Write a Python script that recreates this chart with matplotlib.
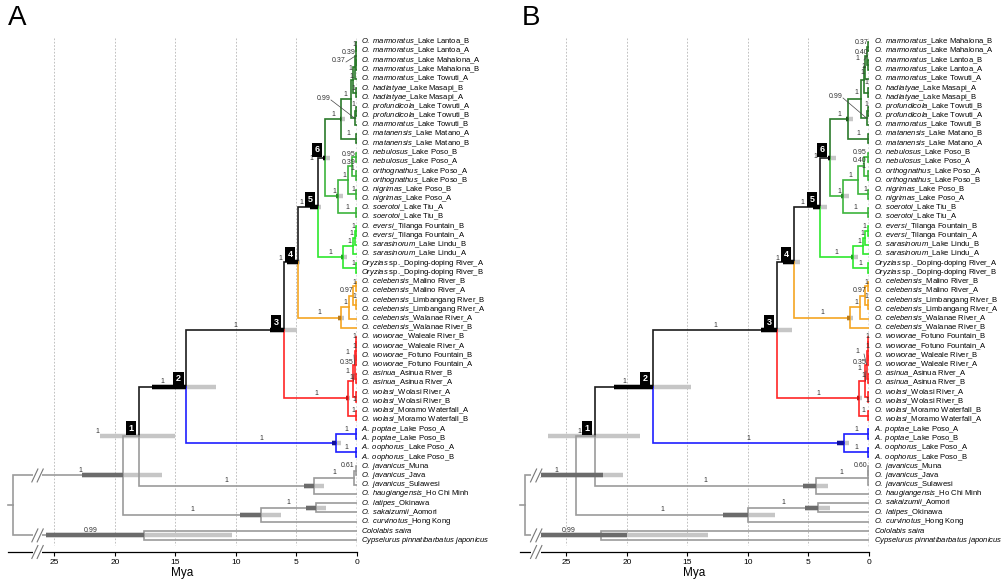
import matplotlib
matplotlib.use('Agg')
import matplotlib.pyplot as plt

plt.rcParams['font.family'] = ['Liberation Sans', 'DejaVu Sans']
plt.rcParams['mathtext.fontset'] = 'custom'
plt.rcParams['mathtext.it'] = 'Liberation Sans:italic'
plt.rcParams['mathtext.rm'] = 'Liberation Sans'

# ---- tip labels (top to bottom), italic part + plain part ----
sp_A = ['O. marmoratus'] * 5 + ['O. hadiatyae'] * 2 + ['O. profundicola'] * 2 + ['O. marmoratus'] + \
       ['O. matanensis'] * 2 + ['O. nebulosus'] * 2 + ['O. orthognathus'] * 2 + ['O. nigrimas'] * 2 + \
       ['O. soerotoi'] * 2 + ['O. eversi'] * 2 + ['O. sarasinorum'] * 2 + ['Oryzias'] * 2 + \
       ['O. celebensis'] * 6 + ['O. woworae'] * 4 + ['O. asinua'] * 2 + ['O. wolasi'] * 4 + \
       ['A. poptae'] * 2 + ['A. oophorus'] * 2 + ['O. javanicus'] * 3 + \
       ['O. haugiangensis', 'O. latipes', 'O. sakaizumii', 'O. curvinotus', 'Cololabis saira',
        'Cypselurus pinnatibarbatus japonicus']
loc_A = ['_Lake Lantoa_B', '_Lake Lantoa_A', '_Lake Mahalona_A', '_Lake Mahalona_B', '_Lake Towuti_A',
         '_Lake Masapi_B', '_Lake Masapi_A', '_Lake Towuti_A', '_Lake Towuti_B', '_Lake Towuti_B',
         '_Lake Matano_A', '_Lake Matano_B', '_Lake Poso_B', '_Lake Poso_A', '_Lake Poso_A', '_Lake Poso_B',
         '_Lake Poso_B', '_Lake Poso_A', '_Lake Tiu_A', '_Lake Tiu_B', '_Tilanga Fountain_B',
         '_Tilanga Fountain_A', '_Lake Lindu_B', '_Lake Lindu_A', ' sp._Doping-doping River_A',
         ' sp._Doping-doping River_B', '_Malino River_B', '_Malino River_A', '_Limbangang River_B',
         '_Limbangang River_A', '_Walanae River_A', '_Walanae River_B', '_Waleale River_B',
         '_Waleale River_A', '_Fotuno Fountain_B', '_Fotuno Fountain_A', '_Asinua River_B',
         '_Asinua River_A', '_Wolasi River_A', '_Wolasi River_B', '_Moramo Waterfall_A',
         '_Moramo Waterfall_B', '_Lake Poso_A', '_Lake Poso_B', '_Lake Poso_A', '_Lake Poso_B',
         '_Muna', '_Java', '_Sulawesi', '_Ho Chi Minh', '_Okinawa', '_Aomori', '_Hong Kong', '', '']

sp_B = ['O. marmoratus'] * 5 + ['O. hadiatyae'] * 2 + ['O. profundicola'] * 2 + ['O. marmoratus'] + \
       ['O. matanensis'] * 2 + ['O. nebulosus'] * 2 + ['O. orthognathus'] * 2 + ['O. nigrimas'] * 2 + \
       ['O. soerotoi'] * 2 + ['O. eversi'] * 2 + ['O. sarasinorum'] * 2 + ['Oryzias'] * 2 + \
       ['O. celebensis'] * 6 + ['O. woworae'] * 4 + ['O. asinua'] * 2 + ['O. wolasi'] * 4 + \
       ['A. poptae'] * 2 + ['A. oophorus'] * 2 + ['O. javanicus'] * 3 + \
       ['O. haugiangensis', 'O. sakaizumii', 'O. latipes', 'O. curvinotus', 'Cololabis saira',
        'Cypselurus pinnatibarbatus japonicus']
loc_B = ['_Lake Mahalona_B', '_Lake Mahalona_A', '_Lake Lantoa_B', '_Lake Lantoa_A', '_Lake Towuti_A',
         '_Lake Masapi_A', '_Lake Masapi_B', '_Lake Towuti_B', '_Lake Towuti_A', '_Lake Towuti_B',
         '_Lake Matano_B', '_Lake Matano_A', '_Lake Poso_B', '_Lake Poso_A', '_Lake Poso_A', '_Lake Poso_B',
         '_Lake Poso_B', '_Lake Poso_A', '_Lake Tiu_B', '_Lake Tiu_A', '_Tilanga Fountain_B',
         '_Tilanga Fountain_A', '_Lake Lindu_B', '_Lake Lindu_A', ' sp._Doping-doping River_A',
         ' sp._Doping-doping River_B', '_Malino River_B', '_Malino River_A', '_Limbangang River_B',
         '_Limbangang River_A', '_Walanae River_A', '_Walanae River_B', '_Fotuno Fountain_B',
         '_Fotuno Fountain_A', '_Waleale River_B', '_Waleale River_A', '_Asinua River_A',
         '_Asinua River_B', '_Wolasi River_A', '_Wolasi River_B', '_Moramo Waterfall_B',
         '_Moramo Waterfall_A', '_Lake Poso_A', '_Lake Poso_B', '_Lake Poso_A', '_Lake Poso_B',
         '_Muna', '_Java', '_Sulawesi', '_Ho Chi Minh', '_Aomori', '_Okinawa', '_Hong Kong', '', '']

# ---- internal nodes: (name, children, age Mya, support, clade colour, HPD (old, dark end, young)) ----
# children: ints are tip rows, strings are other nodes
nodes_A = [
    ('root', ('X', 'CC'), 28.43, None, 'g', None),
    ('CC', (54, 55), 17.6, '0.99', 'g', (25.7, 17.6, 10.3)),
    ('X', ('N1', 'Y'), 19.3, '1', 'g', (22.7, 19.3, 16.1)),
    ('Y', ('Z', 53), 7.9, '1', 'g', (9.7, 7.9, 6.3)),
    ('Z', (51, 52), 3.4, '1', 'g', (4.2, 3.4, 2.6)),
    ('N1', ('N2', 'J'), 18.0, '1', 'g', (21.2, 21.2, 15.0)),
    ('J', ('J2', 50), 3.55, '1', 'g', (4.4, 3.55, 2.7)),
    ('J2', ('J3', 49), 0.25, '1', 'g', None),
    ('J3', (47, 48), 0.08, '0.61', 'g', None),
    ('N2', ('N3', 'B1'), 14.1, '1', 'k', (16.9, 14.1, 11.65)),
    ('B1', ('PO', 'OO'), 1.74, '1', 'b', (2.07, 1.74, 1.32)),
    ('PO', (43, 44), 0.08, '1', 'b', None),
    ('OO', (45, 46), 0.08, '1', 'b', None),
    ('N3', ('N4', 'R1'), 6.03, '1', 'k', (7.2, 6.03, 4.96)),
    ('R1', ('R2', 'MO'), 0.74, '1', 'r', (0.95, 0.74, 0.6)),
    ('R2', ('R3', 'WO'), 0.3, '1', 'r', None),
    ('R3', ('WW', 'AS'), 0.2, '1', 'r', None),
    ('WW', ('WA', 'FO'), 0.12, '0.35', 'r', None),
    ('WA', (33, 34), 0.05, '1', 'r', None),
    ('FO', (35, 36), 0.05, '1', 'r', None),
    ('AS', (37, 38), 0.05, '1', 'r', None),
    ('WO', (39, 40), 0.05, '1', 'r', None),
    ('MO', (41, 42), 0.05, '1', 'r', None),
    ('N4', ('N5', 'O1'), 4.88, '1', 'k', (5.8, 4.88, 4.7)),
    ('O1', ('O2', 32), 1.32, '1', 'o', (1.55, 1.32, 1.1)),
    ('O2', ('O3', 31), 0.66, '1', 'o', None),
    ('O3', ('ML', 'LB'), 0.33, '0.97', 'o', None),
    ('ML', (27, 28), 0.05, '1', 'o', None),
    ('LB', (29, 30), 0.05, '1', 'o', None),
    ('N5', ('N6', 'G1'), 3.22, '1', 'k', (3.9, 3.22, 3.0)),
    ('G1', ('G2', 'DD'), 1.15, '1', 'lg', (1.3, 1.15, 0.8)),
    ('G2', ('G3', 24), 0.35, '1', 'lg', None),
    ('G3', ('EV', 23), 0.2, '1', 'lg', None),
    ('EV', (21, 22), 0.05, '1', 'lg', None),
    ('DD', (25, 26), 0.05, '1', 'lg', None),
    ('N6', ('DG1', 'MG1'), 2.64, '1', 'k', (2.8, 2.64, 2.2)),
    ('DG1', ('DG2', 'MT'), 1.32, '1', 'dg', (1.4, 1.32, 1.0)),
    ('DG2', ('DG4', 'PT'), 0.5, '1', 'dg', None),
    ('DG4', ('DG5', 'HD'), 0.3, '1', 'dg', None),
    ('DG5', ('DG6', 5), 0.2, '1', 'dg', None),
    ('DG6', ('LA', 'MH'), 0.12, '0.37', 'dg', None),
    ('LA', (1, 2), 0.05, '1', 'dg', None),
    ('MH', (3, 4), 0.05, '0.39', 'dg', None),
    ('HD', (6, 7), 0.05, '1', 'dg', None),
    ('PT', ('PF', 10), 0.2, '0.99', 'dg', None),
    ('PF', (8, 9), 0.05, '1', 'dg', None),
    ('MT', (11, 12), 0.05, '1', 'dg', None),
    ('MG1', ('MG2', 'SO'), 1.57, '1', 'mg', (1.7, 1.57, 1.15)),
    ('MG2', ('MG3', 'NI'), 0.75, '1', 'mg', None),
    ('MG3', ('NE', 'OR'), 0.4, '1', 'mg', None),
    ('NE', (13, 14), 0.05, '0.95', 'mg', None),
    ('OR', (15, 16), 0.05, '0.39', 'mg', None),
    ('NI', (17, 18), 0.05, '1', 'mg', None),
    ('SO', (19, 20), 0.05, '1', 'mg', None),
]

nodes_B = [
    ('root', ('X', 'CC'), 28.43, None, 'g', None),
    ('CC', (54, 55), 22.15, '0.99', 'g', (27.2, 20.0, 13.3)),
    ('X', ('N1', 'Y'), 24.2, '1', 'g', (27.2, 22.0, 20.3)),
    ('Y', ('Z', 53), 10.0, '1', 'g', (12.1, 10.0, 7.8)),
    ('Z', (51, 52), 4.2, '1', 'g', (5.3, 4.2, 3.2)),
    ('N1', ('N2', 'J'), 22.64, '1', 'g', (26.5, 26.5, 18.9)),
    ('J', ('J2', 50), 4.38, '1', 'g', (5.45, 4.38, 3.4)),
    ('J2', ('J3', 49), 0.12, '1', 'g', None),
    ('J3', (47, 48), 0.06, '0.60', 'g', None),
    ('N2', ('N3', 'B1'), 17.85, '1', 'k', (21.1, 17.85, 14.7)),
    ('B1', ('PO', 'OO'), 2.07, '1', 'b', (2.64, 2.07, 1.65)),
    ('PO', (43, 44), 0.08, '1', 'b', None),
    ('OO', (45, 46), 0.08, '1', 'b', None),
    ('N3', ('N4', 'R1'), 7.6, '1', 'k', (8.9, 7.6, 6.4)),
    ('R1', ('R2', 'MO'), 0.83, '1', 'r', (1.0, 0.83, 0.6)),
    ('R2', ('R3', 'WO'), 0.3, '1', 'r', None),
    ('R3', ('WW', 'AS'), 0.2, '1', 'r', None),
    ('WW', ('FO', 'WA'), 0.12, '0.35', 'r', None),
    ('FO', (33, 34), 0.05, '1', 'r', None),
    ('WA', (35, 36), 0.05, '1', 'r', None),
    ('AS', (37, 38), 0.05, '1', 'r', None),
    ('WO', (39, 40), 0.05, '1', 'r', None),
    ('MO', (41, 42), 0.05, '1', 'r', None),
    ('N4', ('N5', 'O1'), 6.2, '1', 'k', (7.1, 6.2, 5.7)),
    ('O1', ('O2', 32), 1.57, '1', 'o', (1.8, 1.57, 1.3)),
    ('O2', ('O3', 31), 0.74, '1', 'o', None),
    ('O3', ('ML', 'LB'), 0.3, '0.97', 'o', None),
    ('ML', (27, 28), 0.05, '1', 'o', None),
    ('LB', (29, 30), 0.05, '1', 'o', None),
    ('N5', ('N6', 'G1'), 4.05, '1', 'k', (4.6, 4.05, 3.5)),
    ('G1', ('G2', 'DD'), 1.32, '1', 'lg', (1.5, 1.32, 0.9)),
    ('G2', ('G3', 24), 0.5, '1', 'lg', None),
    ('G3', ('EV', 23), 0.3, '1', 'lg', None),
    ('EV', (21, 22), 0.08, '1', 'lg', None),
    ('DD', (25, 26), 0.05, '1', 'lg', None),
    ('N6', ('DG1', 'MG1'), 3.22, '1', 'k', (3.4, 3.22, 2.73)),
    ('DG1', ('DG2', 'MT'), 1.74, '1', 'dg', (1.9, 1.74, 1.3)),
    ('DG2', ('DG4', 'PT'), 0.66, '1', 'dg', None),
    ('DG4', ('DG5', 'HD'), 0.45, '1', 'dg', None),
    ('DG5', ('DG6', 5), 0.3, '1', 'dg', None),
    ('DG6', ('MH', 'LA'), 0.15, '1', 'dg', None),
    ('MH', (1, 2), 0.05, '0.37', 'dg', None),
    ('LA', (3, 4), 0.05, '0.40', 'dg', None),
    ('HD', (6, 7), 0.05, '1', 'dg', None),
    ('PT', ('PF', 10), 0.2, '0.99', 'dg', None),
    ('PF', (8, 9), 0.05, '1', 'dg', None),
    ('MT', (11, 12), 0.05, '1', 'dg', None),
    ('MG1', ('MG2', 'SO'), 2.15, '1', 'mg', (2.3, 2.15, 1.65)),
    ('MG2', ('MG3', 'NI'), 0.91, '1', 'mg', None),
    ('MG3', ('NE', 'OR'), 0.4, '1', 'mg', None),
    ('NE', (13, 14), 0.05, '0.95', 'mg', None),
    ('OR', (15, 16), 0.05, '0.40', 'mg', None),
    ('NI', (17, 18), 0.05, '1', 'mg', None),
    ('SO', (19, 20), 0.05, '1', 'mg', None),
]

# numbered age nodes
boxes = {'N1': '1', 'N2': '2', 'N3': '3', 'N4': '4', 'N5': '5', 'N6': '6'}

# support labels placed by hand: figure pixels (x, y from top), leader line to node?
lab_A = {
    'N1': (97, 432, 0), 'N4': (280, 259, 0), 'N5': (301, 203, 0), 'N6': (311, 158, 0),
    'LA': (354, 44, 0), 'MH': (349, 53, 0), 'DG6': (339, 60, 1), 'DG5': (350, 68, 0),
    'DG4': (351, 77, 0), 'HD': (353, 88, 0), 'DG2': (345, 95, 0), 'PT': (324, 98, 1),
    'PF': (353, 105, 0), 'NE': (349, 155, 0), 'OR': (349, 162, 0), 'MG3': (352, 169, 0),
    'ML': (354, 282, 0), 'O3': (347, 291, 0), 'LB': (354, 297, 0),
    'WA': (354, 337, 0), 'FO': (354, 347, 0), 'R3': (347, 353, 1), 'WW': (347, 363, 0),
    'R2': (347, 372, 1), 'AS': (351, 378, 0), 'WO': (354, 400, 0), 'MO': (353, 411, 0),
}
lab_B = {
    'N1': (579, 432, 0), 'N4': (777, 259, 0), 'N5': (802, 203, 0), 'N6': (815, 157, 0),
    'MH': (862, 42, 0), 'LA': (862, 52, 0), 'DG6': (857, 58, 1), 'DG5': (863, 66, 0),
    'DG4': (862, 73, 0), 'HD': (866, 82, 0), 'DG2': (856, 93, 0), 'PT': (836, 96, 1),
    'PF': (866, 105, 0), 'NE': (860, 153, 0), 'OR': (860, 160, 0), 'MG3': (863, 167, 0),
    'ML': (866, 282, 0), 'O3': (860, 290, 0), 'LB': (866, 297, 0),
    'FO': (867, 337, 0), 'WA': (867, 347, 0), 'R3': (857, 352, 1), 'WW': (860, 362, 0),
    'R2': (859, 369, 1), 'AS': (863, 376, 0), 'WO': (867, 401, 0), 'MO': (863, 411, 0),
}
brk_A = 26.4
brk_B = 27.5
ticks = [0, 5, 10, 15, 20, 25]

C = {'k': '#1c1c1c', 'g': '#9b9b9b', 'dg': '#2b7a2b', 'mg': '#3cb43c', 'lg': '#2ee82e',
     'o': '#f5a623', 'r': '#ff2626', 'b': '#1f1fff'}
DK = {'k': '#000000', 'g': '#6b6b6b', 'dg': '#1b5a1b', 'mg': '#2a8a2a', 'lg': '#1fa81f',
      'o': '#b87a1a', 'r': '#c01515', 'b': '#10109a'}
LIGHT = '#c6c6c6'
XL = (28.84, 0)
YL = (56.3, 0.35)
FIG_H = 583


def slash(ax, a, r):
    ax.plot([a + 0.4, a - 0.4], [r, r], color='white', lw=3, zorder=7, clip_on=False,
            solid_capstyle='butt')
    for d in (0.22, -0.22):
        ax.plot([a + d + 0.25, a + d - 0.25], [r + 0.7, r - 0.7], color='#777777', lw=0.8,
                zorder=8, clip_on=False)


def tip_label(s, l):
    # italic species name followed by plain locality text
    it = s.replace(' ', '\\ ')
    if l.startswith(' '):
        it += '\\ '
        l = l[1:]
    return '$\\mathit{' + it + '}$' + l


def draw_panel(ax, sp, loc, nodes, labs, brk):
    ax.set_xlim(*XL)
    ax.set_ylim(*YL)
    inv = ax.transData.inverted()
    info = {n[0]: n for n in nodes}
    ypos, age, parent = {}, {}, {}

    def place(key):
        if isinstance(key, int):
            ypos[key], age[key] = key, 0.0
            return key
        kids = info[key][1]
        for k in kids:
            parent[k] = key
        ys = [place(k) for k in kids]
        ypos[key], age[key] = sum(ys) / len(ys), info[key][2]
        return ypos[key]

    place('root')

    # grid
    ax.vlines([5, 10, 15, 20, 25], 0.6, 55.5, colors='#b5b5b5', lw=0.6, linestyles=(0, (2, 2)), zorder=0)
    ax.vlines(0, 0.6, 55.6, colors='k', lw=0.9, linestyles=(0, (1.5, 1.5)), zorder=0)

    for name, kids, a, sup, col, hpd in nodes:
        y = ypos[name]
        if hpd:
            ax.plot([hpd[0], hpd[2]], [y, y], color=LIGHT, lw=3.2, solid_capstyle='butt', zorder=1)
            if hpd[1] < hpd[0]:
                ax.plot([hpd[0], hpd[1]], [y, y], color=DK[col], lw=3.2, solid_capstyle='butt', zorder=3)
        for k in kids:
            kc = col if isinstance(k, int) else info[k][4]
            ax.plot([a, a, age[k]], [y, ypos[k], ypos[k]], color=C[kc], lw=1.2, zorder=2,
                    solid_joinstyle='miter')
        if name == 'root':
            ax.plot([XL[0], a], [y, y], color=C['g'], lw=1.2, zorder=2, clip_on=False)
            continue
        if sup:
            pa = age[parent[name]]
            if parent[name] == 'root':
                pa = brk
            if name in labs:
                px, py, lead = labs[name]
                ma, mr = inv.transform((px, FIG_H - py))
                ax.text(ma, mr, sup, fontsize=5, ha='center', va='center', color='#333333', zorder=6)
                if lead:
                    la, lr = inv.transform((px + 7, FIG_H - py - 2))
                    ax.plot([la, a], [lr, y], color='#444444', lw=0.5, zorder=6)
            elif (pa - a) * 12.1 < 14:
                ax.text(a + 0.1, y - 0.15, sup, fontsize=5, ha='right', va='bottom', color='#333333', zorder=6)
            else:
                ax.text((pa + a) / 2, y - 0.15, sup, fontsize=5, ha='center', va='bottom',
                        color='#333333', zorder=6)
        if name in boxes:
            ax.annotate(boxes[name], xy=(a, y), xytext=(-8, 8), textcoords='offset pixels',
                        ha='center', va='center', fontsize=6.5, fontweight='bold', color='white',
                        bbox=dict(boxstyle='square,pad=0.3', fc='black', ec='none'), zorder=9)

    # broken root branches and axis
    slash(ax, brk, ypos['X'])
    slash(ax, brk, ypos['CC'])
    slash(ax, brk, YL[0])

    for i, (s, l) in enumerate(zip(sp, loc), start=1):
        ax.annotate(tip_label(s, l), xy=(0, i), xytext=(4.5, 0), textcoords='offset pixels',
                    fontsize=5.5, va='center', ha='left', annotation_clip=False)

    for s in ('left', 'top', 'right'):
        ax.spines[s].set_visible(False)
    ax.spines['bottom'].set_linewidth(0.9)
    ax.set_yticks([])
    ax.set_xticks(ticks)
    ax.tick_params(axis='x', length=3, width=0.8, labelsize=6, pad=2)
    ax.set_xlabel('Mya', fontsize=8.5, labelpad=1)
    ax.patch.set_visible(False)


fig = plt.figure(figsize=(10.08, 5.83), dpi=100)
axA = fig.add_axes([8 / 1008, 1 - 552 / 583, 349 / 1008, 516 / 583])
axB = fig.add_axes([520 / 1008, 1 - 552 / 583, 349 / 1008, 516 / 583])
draw_panel(axA, sp_A, loc_A, nodes_A, lab_A, brk_A)
draw_panel(axB, sp_B, loc_B, nodes_B, lab_B, brk_B)

fig.text(8 / 1008, 1 - 5 / 583, 'A', fontsize=20, ha='left', va='top')
fig.text(522 / 1008, 1 - 5 / 583, 'B', fontsize=20, ha='left', va='top')

fig.savefig('out.png', dpi=100)
